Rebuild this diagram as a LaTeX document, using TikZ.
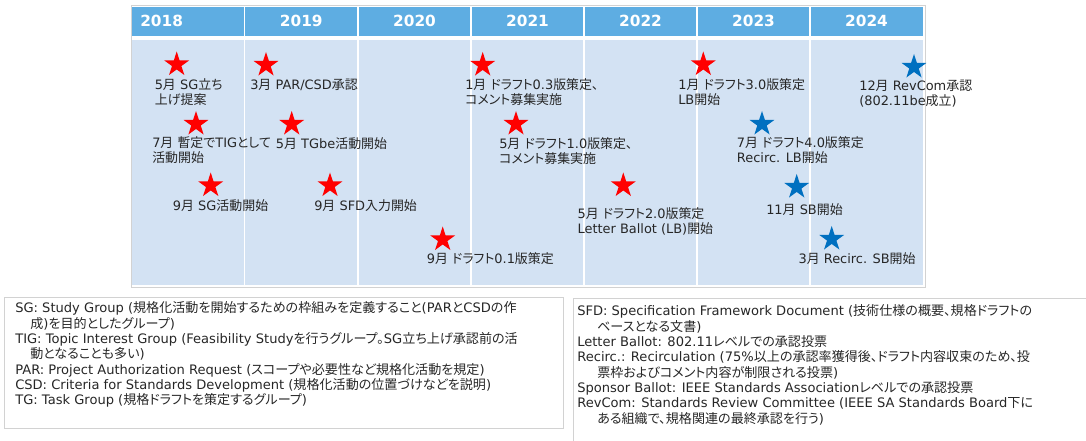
\documentclass[tikz,border=0pt]{standalone}
\usepackage{fontspec}
\setmainfont{DejaVu Sans}
\newfontfamily\jpfont{Noto Sans CJK JP}[RawFeature={+palt}]
\newfontfamily\latinfont{DejaVu Sans}
\usetikzlibrary{shapes.geometric}
\usetikzlibrary{positioning}

% switch to the Japanese font for CJK characters
\XeTeXinterchartokenstate=1
\chardef\jpclass=10
\newcount\jpcnt
\def\setjprange#1#2{\jpcnt=#1\relax
  \loop\XeTeXcharclass\jpcnt=\jpclass
  \ifnum\jpcnt<#2\relax\advance\jpcnt by 1 \repeat}
\setjprange{"3000}{"30FF}
\setjprange{"4E00}{"9FFF}
\setjprange{"FF00}{"FFEF}
\XeTeXinterchartoks 0 \jpclass = {\jpfont}
\XeTeXinterchartoks 4095 \jpclass = {\jpfont}
\XeTeXinterchartoks \jpclass 0 = {\latinfont}
\XeTeXinterchartoks \jpclass 4095 = {\latinfont}

\definecolor{headblue}{RGB}{94,173,226}
\definecolor{bodyblue}{RGB}{211,226,243}
\definecolor{framegray}{RGB}{210,210,210}
\definecolor{starred}{RGB}{255,0,0}
\definecolor{starblue}{RGB}{0,112,192}
\definecolor{textgray}{RGB}{38,38,38}

\begin{document}
\begin{tikzpicture}[x=0.75pt,y=-0.75pt,
    redstar/.style={star,star points=5,star point ratio=2.618,
      minimum size=19.5pt,inner sep=0pt,fill=starred},
    bluestar/.style={redstar,fill=starblue},
    event/.style={anchor=west,inner sep=0pt,align=left,text=textgray,
      font=\fontsize{9.7}{11.25}\selectfont},
    year/.style={text=white,inner sep=0pt,
      font=\fontsize{11.5}{13}\selectfont\bfseries},
    legend/.style={anchor=north west,inner sep=0pt,align=left,text=textgray,
      font=\fontsize{9.8}{11.5}\selectfont}]
  \useasboundingbox (0,0) rectangle (1086,441);

  % timeline frame
  \draw[framegray] (131,5) rectangle (925,287);
  \fill[headblue] (132,7) rectangle (923,36);
  \fill[bodyblue] (132,40) rectangle (923,285);
  \foreach \x in {244.5,358,471,584,697,810}
    \draw[white,line width=1.1pt] (\x,7) -- (\x,285);

  \node[year,anchor=west] (y2018) at (140,21) {2018};
  \foreach \yr/\x in {2019/301.25,2020/414.5,2021/527.5,2022/640.5,
      2023/753.5,2024/866.5}
    \node[year] (y\yr) at (\x,21) {\yr};

  % milestones
  \node[redstar] (sgprop) at (176.7,64.5) {};
  \node[redstar] (tig) at (196,124) {};
  \node[redstar] (sgstart) at (210.7,185.5) {};
  \node[redstar] (par) at (266,65) {};
  \node[redstar] (tgbe) at (291.7,124) {};
  \node[redstar] (sfd) at (330,185.5) {};
  \node[redstar] (d01) at (442.7,239.5) {};
  \node[redstar] (d03) at (482.7,65) {};
  \node[redstar] (d10) at (516,124) {};
  \node[redstar] (d20) at (623.3,185.5) {};
  \node[redstar] (d30) at (703.3,64.5) {};
  \node[bluestar] (d40) at (762,124) {};
  \node[bluestar] (sb) at (796.7,187) {};
  \node[bluestar] (rsb) at (831.7,239) {};
  \node[bluestar] (revcom) at (914,67) {};

  \node[event] (sgprop-l) at (154.5,92.5) {5月 SG立ち\\上げ提案};
  \node[event] (tig-l) at (152,150.5) {7月 暫定でTIGとして\\活動開始};
  \node[event] (sgstart-l) at (172.7,205.7) {9月 SG活動開始};
  \node[event] (par-l) at (250,85) {3月 PAR/CSD承認};
  \node[event] (tgbe-l) at (275.7,143.3) {5月 TGbe活動開始};
  \node[event] (sfd-l) at (314,205.7) {9月 SFD入力開始};
  \node[event] (d01-l) at (426.7,258.3) {9月 ドラフト0.1版策定};
  \node[event] (d03-l) at (465,92.5) {1月 ドラフト0.3版策定、\\コメント募集実施};
  \node[event] (d10-l) at (499,151) {5月 ドラフト1.0版策定、\\コメント募集実施};
  \node[event] (d20-l) at (577.3,221.3) {5月 ドラフト2.0版策定\\Letter Ballot (LB)開始};
  \node[event] (d30-l) at (678,92.5) {1月 ドラフト3.0版策定\\LB開始};
  \node[event] (d40-l) at (736.7,150.5) {7月 ドラフト4.0版策定\\Recirc. LB開始};
  \node[event] (sb-l) at (766,210) {11月 SB開始};
  \node[event] (rsb-l) at (798.3,259) {3月 Recirc. SB開始};
  \node[event] (revcom-l) at (859,94) {12月 RevCom承認\\(802.11be成立)};

  % glossary
  \draw[framegray] (4,297) rectangle (563,428);
  \draw[framegray] (1086,298) -- (573,298) -- (573,441);
  \node[legend] (gloss-l) at (15,301.6) {%
    SG: Study Group (規格化活動を開始するための枠組みを定義すること(PARとCSDの作\\
    \hspace*{11.25pt}成)を目的としたグループ)\\
    TIG: Topic Interest Group (Feasibility Studyを行うグループ。SG立ち上げ承認前の活\\
    \hspace*{11.25pt}動となることも多い)\\
    PAR: Project Authorization Request (スコープや必要性など規格化活動を規定)\\
    CSD: Criteria for Standards Development (規格化活動の位置づけなどを説明)\\
    TG: Task Group (規格ドラフトを策定するグループ)};
  \node[legend] (gloss-r) at (577,304.6) {%
    SFD: Specification Framework Document (技術仕様の概要、規格ドラフトの\\
    \hspace*{15pt}ベースとなる文書)\\
    Letter Ballot: 802.11レベルでの承認投票\\
    Recirc.: Recirculation (75\%以上の承認率獲得後、ドラフト内容収束のため、投\\
    \hspace*{15pt}票枠およびコメント内容が制限される投票)\\
    Sponsor Ballot: IEEE Standards Associationレベルでの承認投票\\
    RevCom: Standards Review Committee (IEEE SA Standards Board下に\\
    \hspace*{15pt}ある組織で、規格関連の最終承認を行う)};
\end{tikzpicture}
\end{document}
